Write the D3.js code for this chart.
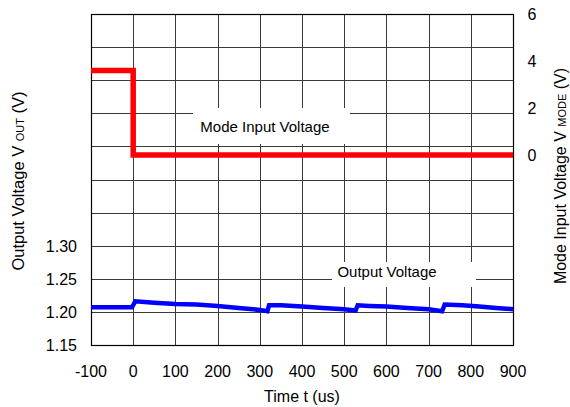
<!DOCTYPE html>
<head>
    <script src="https://d3js.org/d3.v7.min.js"></script>
</head>
<style>
body {
    margin: 0;
    background: #fff;
    font-family: "Liberation Sans", Arial, Helvetica, sans-serif;
}
text {
    fill: #000;
}
</style>
<body>
<svg></svg>
<script>

    // Data read from the scope capture
    var timeTicks = [-100, 0, 100, 200, 300, 400, 500, 600, 700, 800, 900];
    var voutTicks = [1.15, 1.20, 1.25, 1.30];
    var modeTicks = [0, 2, 4, 6];

    // Mode input voltage (V) vs time (us)
    var modeTime = [-100, 0, 0, 900];
    var modeVolt = [3.6, 3.6, 0, 0];

    // Output voltage (V) vs time (us)
    var voutTime = [-100, -50, -3, 5, 50, 100, 150, 200, 250, 300, 318, 322, 350, 400, 450, 500, 527, 532, 560, 600, 650, 700, 732, 738, 780, 820, 860, 900];
    var voutVolt = [1.207, 1.207, 1.207, 1.216, 1.214, 1.212, 1.211, 1.209, 1.206, 1.203, 1.201, 1.210, 1.210, 1.208, 1.206, 1.204, 1.202, 1.210, 1.209, 1.208, 1.206, 1.204, 1.201, 1.211, 1.210, 1.208, 1.206, 1.204];

    var width = 570;
    var height = 407;
    var plotL = 91, plotR = 513, plotT = 14, plotB = 345;

    var svg = d3.select('svg')
        .attr('width', width)
        .attr('height', height);

    var x = d3.scaleLinear().domain([-100, 900]).range([plotL, plotR]);
    var yOut = d3.scaleLinear().domain([1.15, 1.65]).range([plotB, plotT]);
    var yMode = d3.scaleLinear().domain([0, 6]).range([155, plotT]);

    // grid
    var grid = svg.append('g').attr('stroke', '#3a3a3a').attr('stroke-width', 1);
    grid.selectAll('line.v').data(d3.range(-100, 901, 100)).enter()
        .append('line').attr('class', 'v')
        .attr('x1', function (d) { return Math.round(x(d)) + 0.5; })
        .attr('x2', function (d) { return Math.round(x(d)) + 0.5; })
        .attr('y1', plotT).attr('y2', plotB);
    grid.selectAll('line.h').data(d3.range(0, 11)).enter()
        .append('line').attr('class', 'h')
        .attr('y1', function (d) { return Math.round(yOut(1.15 + d * 0.05)) + 0.5; })
        .attr('y2', function (d) { return Math.round(yOut(1.15 + d * 0.05)) + 0.5; })
        .attr('x1', plotL).attr('x2', plotR);

    // white boxes behind the in-plot labels
    svg.append('rect').attr('x', 193).attr('y', 108).attr('width', 157).attr('height', 36).attr('fill', '#fff');
    svg.append('rect').attr('x', 332).attr('y', 262).attr('width', 144).attr('height', 25).attr('fill', '#fff');

    // border
    svg.append('rect')
        .attr('x', plotL + 0.5).attr('y', plotT + 0.5)
        .attr('width', plotR - plotL).attr('height', plotB - plotT)
        .attr('fill', 'none').attr('stroke', '#000').attr('stroke-width', 1.2);

    // traces
    var modeLine = d3.line()
        .x(function (d, i) { return x(modeTime[i]); })
        .y(function (d) { return yMode(d); });
    svg.append('path')
        .attr('d', modeLine(modeVolt))
        .attr('fill', 'none')
        .attr('stroke', '#ff0000')
        .attr('stroke-width', 5.5);

    var voutLine = d3.line()
        .x(function (d, i) { return x(voutTime[i]); })
        .y(function (d) { return yOut(d); });
    svg.append('path')
        .attr('d', voutLine(voutVolt))
        .attr('fill', 'none')
        .attr('stroke', '#0000ff')
        .attr('stroke-width', 4.5);

    // tick labels
    svg.selectAll('text.xt').data(timeTicks).enter()
        .append('text').attr('class', 'xt')
        .attr('x', function (d) { return x(d); })
        .attr('y', 377)
        .attr('text-anchor', 'middle')
        .style('font-size', '16px')
        .text(function (d) { return d; });

    svg.selectAll('text.yl').data(voutTicks).enter()
        .append('text').attr('class', 'yl')
        .attr('x', 77)
        .attr('y', function (d) { return yOut(d) + 6; })
        .attr('text-anchor', 'end')
        .style('font-size', '16px')
        .text(function (d) { return d.toFixed(2); });

    svg.selectAll('text.yr').data(modeTicks).enter()
        .append('text').attr('class', 'yr')
        .attr('x', 532)
        .attr('y', function (d) { return yMode(d) + 6; })
        .attr('text-anchor', 'middle')
        .style('font-size', '16px')
        .text(function (d) { return d; });

    // in-plot labels
    svg.append('text').attr('x', 265).attr('y', 132)
        .attr('text-anchor', 'middle').style('font-size', '15px')
        .text('Mode Input Voltage');
    svg.append('text').attr('x', 387).attr('y', 277)
        .attr('text-anchor', 'middle').style('font-size', '15px')
        .text('Output Voltage');

    // axis titles
    svg.append('text').attr('x', 302).attr('y', 402)
        .attr('text-anchor', 'middle').style('font-size', '16px')
        .text('Time t (us)');

    var lt = svg.append('text')
        .attr('transform', 'translate(24,181)rotate(-90)')
        .attr('text-anchor', 'middle').style('font-size', '16.5px');
    lt.append('tspan').text('Output Voltage V ');
    lt.append('tspan').style('font-size', '11px').text('OUT');
    lt.append('tspan').text(' (V)');

    var rt = svg.append('text')
        .attr('transform', 'translate(566,176)rotate(-90)')
        .attr('text-anchor', 'middle').style('font-size', '16px');
    rt.append('tspan').text('Mode Input Voltage  V ');
    rt.append('tspan').style('font-size', '11px').text('MODE');
    rt.append('tspan').text(' (V)');

</script>
</body>
